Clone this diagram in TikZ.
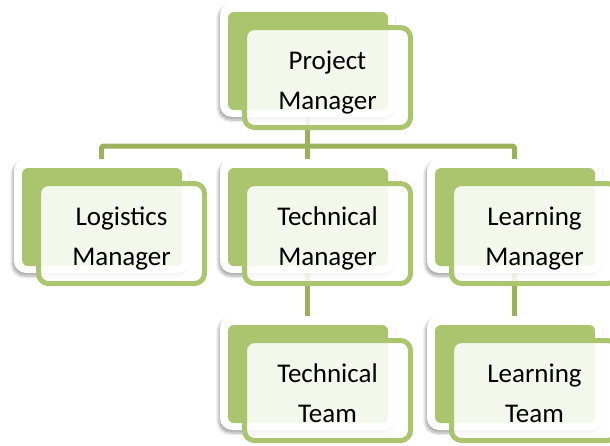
\documentclass[tikz,border=0pt]{standalone}
\usepackage{fontspec}
\setmainfont{Carlito}
\usetikzlibrary{positioning,backgrounds,shadows.blur}
\definecolor{leaf}{RGB}{171,196,110}
\definecolor{stem}{RGB}{155,177,92}

\begin{document}
\begin{tikzpicture}[x=1pt, y=1pt,
  frame/.style={fill=white, rounded corners=12pt, minimum width=175pt,
    minimum height=114pt, inner sep=0pt,
    blur shadow={shadow xshift=-1.5pt, shadow yshift=-3pt,
      shadow opacity=35, shadow blur steps=6, shadow blur radius=3pt}},
  under/.style={fill=leaf, rounded corners=6pt, minimum width=160pt,
    minimum height=98pt, inner sep=0pt},
  card/.style={draw=leaf, line width=5pt, fill=white, fill opacity=0.87,
    text opacity=1, rounded corners=10pt, minimum width=166pt,
    minimum height=100pt, inner sep=0pt, align=center,
    text height=64pt, text depth=0pt,
    font=\fontsize{27}{40}\selectfont},
  link/.style={draw=stem, line width=5pt, rounded corners=2pt}
]
\useasboundingbox (0,0) rectangle (610,-445);

% Top: project manager
\node[frame] (pm) at (307.5,-60) {};
\node[under] (pm-b) at ([shift={(0.5,-1)}]pm.center) {};
\node[card] (pm-c) at ([shift={(20,-17.5)}]pm.center) {Project\\Manager};

% Middle row: the three managers
\node[frame] (lg) at (101.5,-216) {};
\node[under] (lg-b) at ([shift={(0.5,-1)}]lg.center) {};
\node[card] (lg-c) at ([shift={(20,-17.5)}]lg.center) {Logistics\\Manager};

\node[frame] (tm) at (307.5,-216) {};
\node[under] (tm-b) at ([shift={(0.5,-1)}]tm.center) {};
\node[card] (tm-c) at ([shift={(20,-17.5)}]tm.center) {Technical\\Manager};

\node[frame] (lm) at (514.5,-216) {};
\node[under] (lm-b) at ([shift={(0.5,-1)}]lm.center) {};
\node[card] (lm-c) at ([shift={(20,-17.5)}]lm.center) {Learning\\Manager};

% Bottom row: the teams
\node[frame] (tt) at (307.5,-373) {};
\node[under] (tt-b) at ([shift={(0.5,-1)}]tt.center) {};
\node[card] (tt-c) at ([shift={(20,-17.5)}]tt.center) {Technical\\Team};

\node[frame] (lt) at (514.5,-373) {};
\node[under] (lt-b) at ([shift={(0.5,-1)}]lt.center) {};
\node[card] (lt-c) at ([shift={(20,-17.5)}]lt.center) {Learning\\Team};

% Connectors (behind the boxes)
\begin{scope}[on background layer]
  \draw[link] (pm.south) -- ++(0,-29) coordinate (bus);
  \draw[link] (bus) -| (lg.north);
  \draw[link] (bus) -| (tm.north);
  \draw[link] (bus) -| (lm.north);
  \draw[link] (tm.south) -- (tt.north);
  \draw[link] (lm.south) -- (lt.north);
\end{scope}

\end{tikzpicture}
\end{document}
